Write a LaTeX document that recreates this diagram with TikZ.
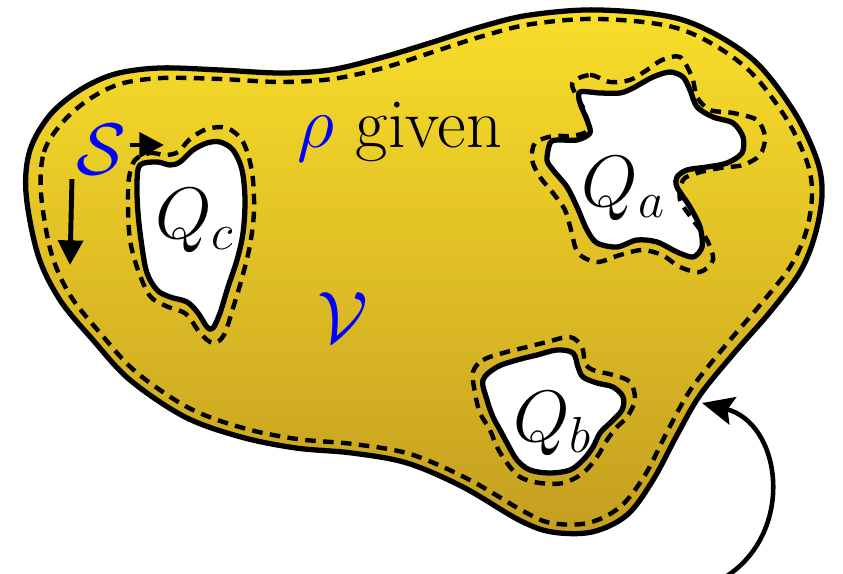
\documentclass[tikz,border=0pt]{standalone}
\usepackage{tikz}
\usetikzlibrary{arrows.meta}
\definecolor{BlobTop}{RGB}{249,222,42}
\definecolor{BlobBot}{RGB}{196,158,32}
\definecolor{TagBlue}{RGB}{0,0,255}

\begin{document}
\begin{tikzpicture}[x=0.01cm, y=-0.01cm,
    wall/.style={line width=1.5pt, line join=round},
    skin/.style={line width=1.25pt, dash pattern=on 3pt off 2.1pt},
    hole/.style={wall, fill=white},
    lbl/.style={font=\fontsize{20}{24}\selectfont, inner sep=1pt},
    arr/.style={-{Triangle[length=7pt,width=7pt]}, line width=1.4pt}
  ]
  \useasboundingbox (0,0) rectangle (843,573);

  % region V
  \draw[wall, top color=BlobTop, bottom color=BlobBot]
    plot[smooth cycle, tension=0.55] coordinates {
      (26,193) (30,150) (50,115) (80,90) (115,74) (160,68) (220,70)
      (280,73) (330,70) (380,58) (430,43) (480,27) (530,15) (600,10)
      (683,20) (750,57) (793,110) (817,160) (822,195) (815,235)
      (800,272) (770,312) (735,352) (700,395) (677,435) (653,480)
      (627,515) (592,532) (552,532) (519,520) (463,487) (407,463)
      (352,453) (296,448) (241,437) (185,417) (130,380) (93,340)
      (60,300) (38,255)};
  \draw[skin]
    plot[smooth cycle, tension=0.55] coordinates {
      (41,193) (44,152) (62,123) (88,100) (120,84) (162,78) (220,79)
      (280,82) (332,79) (383,68) (433,52) (483,36) (532,24) (600,19)
      (680,29) (743,65) (784,115) (807,162) (812,195) (806,232)
      (790,267) (760,305) (725,346) (691,389) (668,430) (645,475)
      (620,507) (588,523) (551,523) (523,511) (468,479) (410,454)
      (353,444) (297,439) (243,428) (189,408) (136,372) (101,334)
      (70,295) (51,252)};

  % Q_a
  \draw[hole] plot[smooth cycle, tension=0.5] coordinates {
      (580,92) (600,93) (620,93) (633,88) (653,77) (670,72) (683,77)
      (690,90) (697,107) (713,117) (733,123) (743,137) (742,153)
      (727,163) (707,167) (687,170) (677,177) (677,187) (690,207)
      (700,227) (702,247) (693,257) (677,252) (657,242) (637,240)
      (617,247) (597,243) (587,230) (577,207) (567,187) (553,170)
      (547,160) (550,143) (557,140) (577,140) (590,133) (587,120)
      (580,103)};
  \draw[skin] plot[smooth cycle, tension=0.5] coordinates {
      (572,84) (590,75) (610,82) (630,80) (647,70) (662,60) (680,57)
      (692,77) (697,97) (710,110) (733,113) (757,120) (765,137)
      (760,155) (743,165) (720,168) (697,173) (683,180) (680,200)
      (693,220) (707,240) (713,260) (700,272) (680,267) (662,255)
      (642,250) (620,255) (597,262) (578,253) (571,230) (565,210)
      (553,193) (540,177) (532,160) (535,143) (553,136) (572,136)
      (588,130) (584,110)};

  % Q_b
  \draw[hole] plot[smooth cycle, tension=0.55] coordinates {
      (483,380) (497,367) (517,360) (537,355) (557,350) (573,353)
      (578,367) (583,377) (597,383) (613,387) (623,397) (622,410)
      (610,423) (600,433) (593,447) (583,460) (570,470) (550,473)
      (530,470) (517,460) (507,443) (500,430) (493,417) (487,400)};
  \draw[skin] plot[smooth cycle, tension=0.55] coordinates {
      (473,372) (483,360) (503,353) (527,347) (547,342) (570,337)
      (582,347) (585,363) (593,370) (613,375) (630,382) (635,400)
      (627,417) (617,427) (607,440) (597,457) (583,473) (563,483)
      (540,483) (520,477) (507,463) (497,447) (490,430) (480,413)
      (475,393)};

  % Q_c
  \draw[hole] plot[smooth cycle, tension=0.55] coordinates {
      (140,165) (157,162) (170,165) (180,162) (193,150) (207,143)
      (220,142) (233,150) (242,170) (245,200) (243,233) (237,260)
      (228,287) (220,313) (213,328) (207,327) (198,313) (187,302)
      (170,297) (157,290) (147,273) (142,247) (138,213) (137,183)};
  \draw[skin] plot[smooth cycle, tension=0.55] coordinates {
      (135,160) (150,153) (165,155) (178,152) (190,139) (207,129)
      (227,128) (243,142) (252,172) (254,210) (250,245) (242,278)
      (233,308) (224,335) (213,343) (200,333) (186,314) (166,306)
      (150,296) (138,270) (130,240) (128,205) (129,178)};

  % labels
  \node[lbl] (qa) at (624,189) {$Q_a$};
  \node[lbl] (qb) at (553,424) {$Q_b$};
  \node[lbl] (qc) at (195,221) {$Q_c$};
  \node[lbl, text=TagBlue] (vol) at (343,318) {$\mathcal{V}$};
  \node[lbl, anchor=base] (rho) at (400,147)
       {$\color{TagBlue}\rho$ given};
  \node[lbl, text=TagBlue] (surf) at (101,150) {$\mathcal{S}$};

  % normals and pointer
  \coordinate (sright) at (164,145);
  \coordinate (sdown)  at (70,265);
  \coordinate (ptail)  at (727,576);
  \coordinate (ptip)   at (702,403);
  \draw[arr] (surf.east |- sright) -- (sright);
  \draw[arr] (surf.south west) -- (sdown);
  \draw[-{Stealth[length=9pt,width=8pt,inset=1.5pt]}, line width=1.3pt]
    (ptail) .. controls (796,530) and (781,423) .. (ptip);
\end{tikzpicture}
\end{document}
